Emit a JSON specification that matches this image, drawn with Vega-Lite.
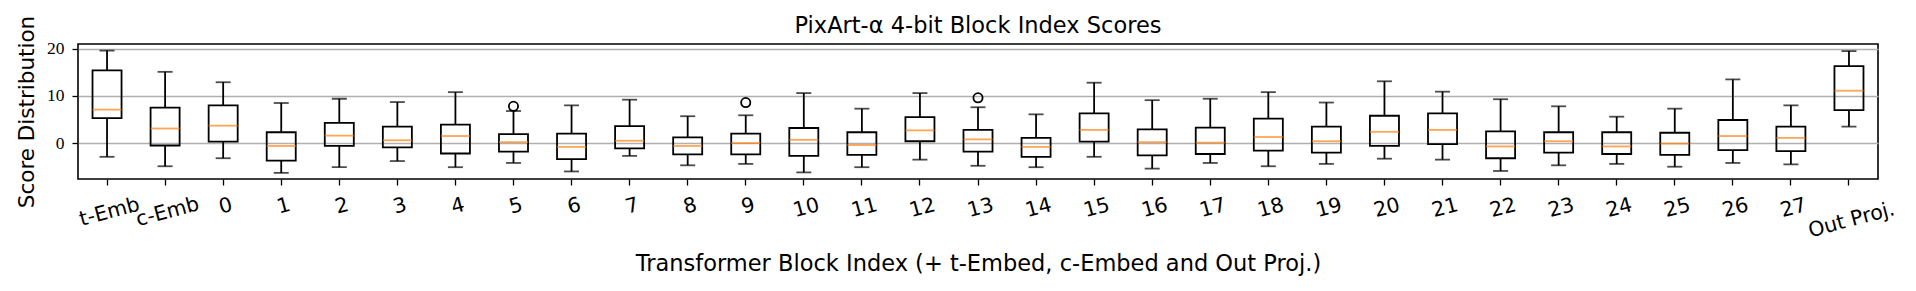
{
  "$schema": "https://vega.github.io/schema/vega-lite/v6.json",
  "width": 1800,
  "height": 135,
  "autosize": {"type": "none"},
  "padding": {"left": 78, "top": 44, "right": 38, "bottom": 112},
  "background": "white",
  "title": {"text": "PixArt-α 4-bit Block Index Scores", "font": "DejaVu Sans", "fontSize": 22.5, "fontWeight": "normal", "color": "black", "offset": -22, "frame": "group"},
  "datasets": {
    "boxes": [
      {"name": "t-Emb", "low": -2.9, "q1": 5.3, "med": 7.1, "q3": 15.4, "high": 19.6},
      {"name": "c-Emb", "low": -4.9, "q1": -0.5, "med": 3.1, "q3": 7.5, "high": 15.1},
      {"name": "0", "low": -3.2, "q1": 0.3, "med": 3.7, "q3": 8.0, "high": 12.9},
      {"name": "1", "low": -6.3, "q1": -3.7, "med": -0.6, "q3": 2.3, "high": 8.5},
      {"name": "2", "low": -5.1, "q1": -0.6, "med": 1.6, "q3": 4.3, "high": 9.4},
      {"name": "3", "low": -3.8, "q1": -0.9, "med": 0.6, "q3": 3.5, "high": 8.7},
      {"name": "4", "low": -5.1, "q1": -2.2, "med": 1.5, "q3": 3.9, "high": 10.8},
      {"name": "5", "low": -4.2, "q1": -1.8, "med": 0.2, "q3": 1.9, "high": 6.8},
      {"name": "6", "low": -6.0, "q1": -3.4, "med": -0.8, "q3": 2.0, "high": 8.0},
      {"name": "7", "low": -2.7, "q1": -1.1, "med": 0.5, "q3": 3.6, "high": 9.2},
      {"name": "8", "low": -4.7, "q1": -2.4, "med": -0.6, "q3": 1.2, "high": 5.7},
      {"name": "9", "low": -4.4, "q1": -2.4, "med": 0.0, "q3": 2.0, "high": 5.9},
      {"name": "10", "low": -6.2, "q1": -2.7, "med": 0.7, "q3": 3.2, "high": 10.6},
      {"name": "11", "low": -5.1, "q1": -2.5, "med": -0.4, "q3": 2.3, "high": 7.3},
      {"name": "12", "low": -3.5, "q1": 0.4, "med": 2.7, "q3": 5.5, "high": 10.6},
      {"name": "13", "low": -4.8, "q1": -1.8, "med": 0.8, "q3": 2.8, "high": 7.6},
      {"name": "14", "low": -5.1, "q1": -2.9, "med": -0.8, "q3": 1.1, "high": 6.1},
      {"name": "15", "low": -2.9, "q1": 0.3, "med": 2.8, "q3": 6.3, "high": 12.8},
      {"name": "16", "low": -5.4, "q1": -2.6, "med": 0.2, "q3": 2.9, "high": 9.1},
      {"name": "17", "low": -4.2, "q1": -2.3, "med": 0.1, "q3": 3.3, "high": 9.4},
      {"name": "18", "low": -4.9, "q1": -1.6, "med": 1.3, "q3": 5.2, "high": 10.8},
      {"name": "19", "low": -4.4, "q1": -2.0, "med": 0.4, "q3": 3.5, "high": 8.6},
      {"name": "20", "low": -3.3, "q1": -0.6, "med": 2.4, "q3": 5.8, "high": 13.1},
      {"name": "21", "low": -3.5, "q1": -0.2, "med": 2.8, "q3": 6.3, "high": 10.9},
      {"name": "22", "low": -5.9, "q1": -3.2, "med": -0.7, "q3": 2.5, "high": 9.3},
      {"name": "23", "low": -4.7, "q1": -2.0, "med": 0.4, "q3": 2.3, "high": 7.8},
      {"name": "24", "low": -4.4, "q1": -2.3, "med": -0.7, "q3": 2.3, "high": 5.6},
      {"name": "25", "low": -5.0, "q1": -2.5, "med": -0.1, "q3": 2.2, "high": 7.3},
      {"name": "26", "low": -4.2, "q1": -1.5, "med": 1.5, "q3": 4.9, "high": 13.5},
      {"name": "27", "low": -4.5, "q1": -1.7, "med": 1.1, "q3": 3.5, "high": 8.0},
      {"name": "Out Proj.", "low": 3.5, "q1": 7.0, "med": 11.1, "q3": 16.3, "high": 19.5}
    ],
    "outliers": [
      {"name": "5", "value": 7.8},
      {"name": "9", "value": 8.6},
      {"name": "13", "value": 9.6}
    ]
  },
  "data": {"name": "boxes"},
  "encoding": {
    "x": {
      "field": "name",
      "type": "nominal",
      "scale": {
        "domain": ["t-Emb", "c-Emb", "0", "1", "2", "3", "4", "5", "6", "7", "8", "9", "10", "11", "12", "13", "14", "15", "16", "17", "18", "19", "20", "21", "22", "23", "24", "25", "26", "27", "Out Proj."],
        "paddingInner": 0,
        "paddingOuter": 0
      },
      "axis": {
        "title": "Transformer Block Index (+ t-Embed, c-Embed and Out Proj.)",
        "labelAngle": -15,
        "labelAlign": "center",
        "labelBaseline": "top",
        "labelFont": "DejaVu Sans",
        "labelFontSize": 20.5,
        "labelColor": "black",
        "labelPadding": {
          "condition": [
            {"test": "datum.value === 'Out Proj.'", "value": 25},
            {"test": "datum.value === 't-Emb' || datum.value === 'c-Emb'", "value": 17},
            {"test": "length(datum.value) === 2", "value": 13}
          ],
          "value": 11
        },
        "tickSize": 6,
        "tickColor": "black",
        "tickWidth": 1.3,
        "domain": false,
        "grid": false,
        "titleFont": "DejaVu Sans",
        "titleFontSize": 22.5,
        "titleFontWeight": "normal",
        "titleColor": "black",
        "titleBaseline": "alphabetic",
        "titleY": 91
      }
    }
  },
  "layer": [
    {
      "mark": {"type": "rule", "color": "black", "strokeWidth": 1.8},
      "encoding": {
        "y": {
          "field": "low",
          "type": "quantitative",
          "title": "Score Distribution",
          "scale": {"domain": [-7.6, 21.0], "nice": false, "zero": false},
          "axis": {"values": [0, 10, 20]}
        },
        "y2": {"field": "q1"}
      }
    },
    {
      "mark": {"type": "rule", "color": "black", "strokeWidth": 1.8},
      "encoding": {
        "y": {"field": "q3", "type": "quantitative", "title": "Score Distribution", "axis": {"values": [0, 10, 20]}},
        "y2": {"field": "high"}
      }
    },
    {
      "mark": {"type": "tick", "color": "black", "size": 15, "thickness": 1.8},
      "encoding": {"y": {"field": "low", "type": "quantitative", "title": "Score Distribution", "axis": {"values": [0, 10, 20]}}}
    },
    {
      "mark": {"type": "tick", "color": "black", "size": 15, "thickness": 1.8},
      "encoding": {"y": {"field": "high", "type": "quantitative", "title": "Score Distribution", "axis": {"values": [0, 10, 20]}}}
    },
    {
      "mark": {"type": "bar", "fill": "white", "fillOpacity": 0, "stroke": "black", "strokeWidth": 1.8, "width": {"band": 0.5}},
      "encoding": {
        "y": {"field": "q1", "type": "quantitative", "title": "Score Distribution", "axis": {"values": [0, 10, 20]}},
        "y2": {"field": "q3"}
      }
    },
    {
      "mark": {"type": "tick", "color": "#ff7f0e", "size": 29, "thickness": 1.8},
      "encoding": {"y": {"field": "med", "type": "quantitative", "title": "Score Distribution", "axis": {"values": [0, 10, 20]}}}
    },
    {
      "data": {"name": "outliers"},
      "mark": {"type": "point", "shape": "circle", "filled": false, "stroke": "black", "strokeWidth": 1.8, "size": 85, "opacity": 1},
      "encoding": {"y": {"field": "value", "type": "quantitative", "title": "Score Distribution", "axis": {"values": [0, 10, 20]}}}
    }
  ],
  "config": {
    "view": {"stroke": "black", "strokeWidth": 1.6},
    "axisY": {
      "labelFont": "Liberation Serif",
      "labelFontSize": 17.5,
      "labelColor": "black",
      "labelPadding": 8,
      "tickSize": 6,
      "tickColor": "black",
      "tickWidth": 1.3,
      "domain": false,
      "grid": true,
      "gridColor": "#b0b0b0",
      "gridWidth": 1.3,
      "titleFont": "DejaVu Sans",
      "titleFontSize": 21.5,
      "titleFontWeight": "normal",
      "titleColor": "black",
      "titleBaseline": "alphabetic",
      "titleX": -45,
      "titleY": 67.5
    }
  }
}
